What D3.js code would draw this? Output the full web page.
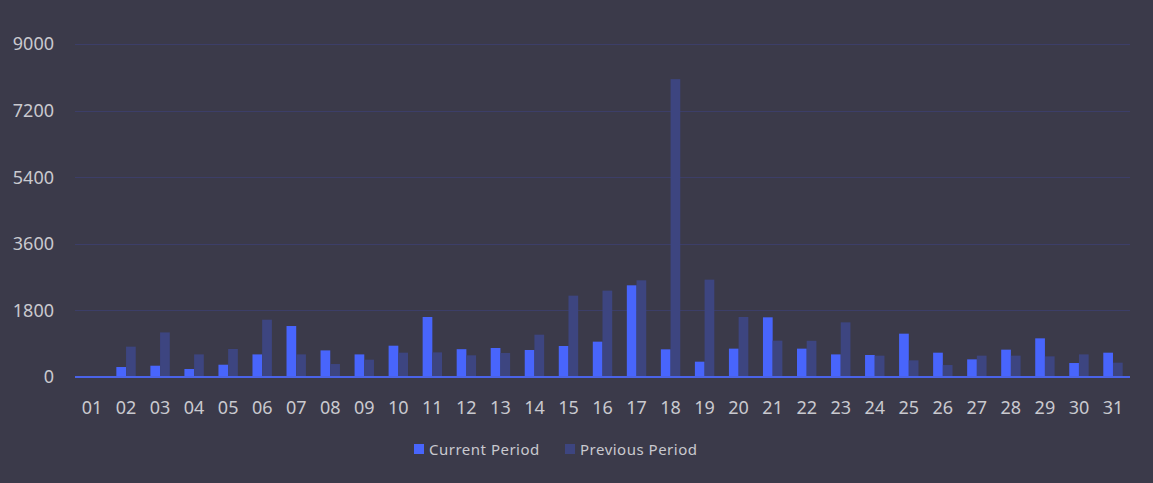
<!DOCTYPE html>
<html>
<head>
<meta charset="utf-8">
<title>Daily comparison</title>
<script src="https://cdn.jsdelivr.net/npm/d3@7/dist/d3.min.js"></script>
<style>
  html, body { margin: 0; padding: 0; background: #3b3a4a; }
  svg text { font-family: "Noto Sans", "Open Sans", sans-serif; fill: #c9c9cf; }
</style>
</head>
<body>
<div id="chart"></div>
<script>
  // data
  var days = ["01","02","03","04","05","06","07","08","09","10","11","12","13","14","15","16",
              "17","18","19","20","21","22","23","24","25","26","27","28","29","30","31"];
  var current = [0, 270, 305, 216, 332, 611, 1378, 719, 611, 846, 1622, 752, 784, 730, 838, 955,
                 2478, 748, 414, 766, 1613, 766, 611, 595, 1171, 657, 477, 739, 1045, 378, 657];
  var previous = [0, 820, 1205, 611, 757, 1549, 611, 351, 468, 657, 665, 586, 649, 1144, 2198, 2334,
                  2613, 8050, 2631, 1622, 982, 978, 1477, 577, 450, 324, 577, 577, 558, 611, 387];
  var yTicks = [0, 1800, 3600, 5400, 7200, 9000];
  var seriesNames = ["Current Period", "Previous Period"];
  var seriesColors = ["#4865fc", "#3d4580"];

  var width = 1153, height = 483;

  var svg = d3.select("#chart").append("svg")
      .attr("width", width)
      .attr("height", height);

  svg.append("rect")
      .attr("width", width).attr("height", height)
      .attr("fill", "#3b3a4a");

  var x = d3.scaleBand()
      .domain(days)
      .range([75, 1130])
      .paddingInner(0.43)
      .paddingOuter(0.215);

  var x1 = d3.scaleBand()
      .domain([0, 1])
      .range([0, x.bandwidth()]);

  var y = d3.scaleLinear()
      .domain([0, 9000])
      .range([377, 44]);

  // grid
  svg.append("g")
    .selectAll("line")
    .data(yTicks.filter(function(d) { return d > 0; }))
    .enter().append("line")
      .attr("x1", 75).attr("x2", 1130)
      .attr("y1", function(d) { return Math.round(y(d)) + 0.5; })
      .attr("y2", function(d) { return Math.round(y(d)) + 0.5; })
      .attr("stroke", "#3c3e68")
      .attr("stroke-width", 1);

  // y labels
  svg.append("g")
    .selectAll("text")
    .data(yTicks)
    .enter().append("text")
      .attr("x", 54)
      .attr("y", function(d) { return y(d); })
      .attr("dy", "0.35em")
      .attr("text-anchor", "end")
      .style("font-size", "18px")
      .text(function(d) { return d; });

  // bars
  var rows = days.map(function(d, i) { return { day: d, vals: [current[i], previous[i]] }; });

  var groups = svg.append("g")
    .selectAll("g")
    .data(rows)
    .enter().append("g")
      .attr("transform", function(d) { return "translate(" + x(d.day) + ",0)"; });

  groups.selectAll("rect")
    .data(function(d) { return d.vals; })
    .enter().append("rect")
      .attr("x", function(d, i) { return x1(i); })
      .attr("width", x1.bandwidth())
      .attr("y", function(d) { return y(d); })
      .attr("height", function(d) { return y(0) - y(d); })
      .attr("fill", function(d, i) { return seriesColors[i]; });

  // baseline axis
  svg.append("line")
      .attr("x1", 75).attr("x2", 1130)
      .attr("y1", y(0)).attr("y2", y(0))
      .attr("stroke", "#4a63e8")
      .attr("stroke-width", 2);

  // x labels
  svg.append("g")
    .selectAll("text")
    .data(days)
    .enter().append("text")
      .attr("x", function(d) { return x(d) + x.bandwidth() / 2; })
      .attr("y", 414)
      .attr("text-anchor", "middle")
      .style("font-size", "18px")
      .text(function(d) { return d; });

  // legend
  var legendX = [414, 565];
  var legend = svg.append("g")
    .selectAll("g")
    .data(seriesNames)
    .enter().append("g")
      .attr("transform", function(d, i) { return "translate(" + legendX[i] + ",444)"; });

  legend.append("rect")
      .attr("width", 10).attr("height", 10)
      .attr("fill", function(d, i) { return seriesColors[i]; });

  legend.append("text")
      .attr("x", 15)
      .attr("y", 11)
      .style("font-size", "15px")
      .style("letter-spacing", "0.5px")
      .text(function(d) { return d; });
</script>
</body>
</html>
